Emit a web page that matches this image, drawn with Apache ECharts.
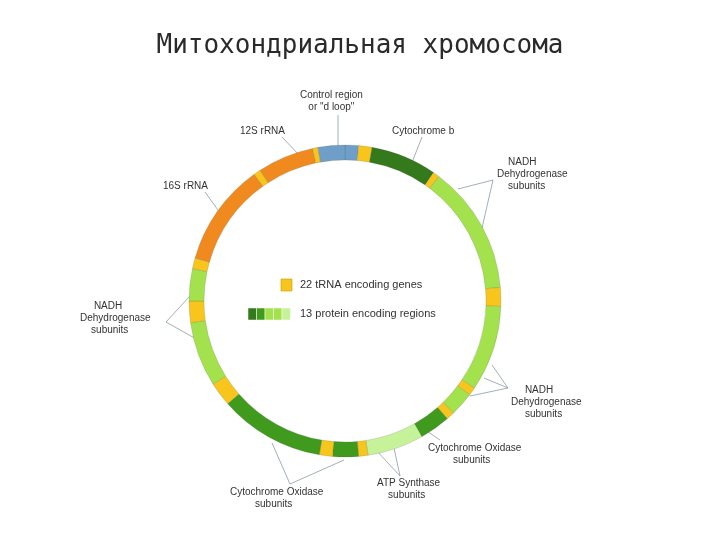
<!DOCTYPE html>
<html><head><meta charset="utf-8">
<script src="https://cdn.jsdelivr.net/npm/echarts@6/dist/echarts.min.js"></script>
<style>html,body{margin:0;background:#fff}#c{width:720px;height:540px}</style>
</head><body><div id="c"></div>
<script>
// segments clockwise from the top, sizes in degrees
var segNames = ['ctrl','trna','cytb','trna','nd','trna','nd','trna','nd','trna','co','atp','trna','co','trna','co','trna','nd','trna','nd','trna','r16','trna','r12','trna','ctrl'];
var segSizes = [5, 5, 24.6, 2.4, 48, 7, 32, 3, 9, 3, 11.5, 21, 3.5, 9.6, 4.9, 39.3, 9, 24.2, 8, 12, 4, 38.4, 2.6, 21, 2, 10];
var segKinds = ['blue','yellow','dark','yellow','light','yellow','light','yellow','light','yellow','mid','pale','yellow','mid','yellow','mid','yellow','light','yellow','light','yellow','orange','yellow','orange','yellow','blue'];
var kindColor = {blue:'#6f9fc9', yellow:'#f7c51b', dark:'#347a1c', mid:'#3f9a1e', light:'#a3e24c', pale:'#c6f29a', orange:'#f08a1f'};

var chart = echarts.init(document.getElementById('c'));
var font = 'Liberation Sans, sans-serif';
function txt(x, y, s, align) {
  return {type:'text', left:x, top:y, style:{text:s, font:'10px ' + font, fill:'#333', textAlign:align || 'center', lineHeight:12}};
}
function ln(pts) {
  return {type:'polyline', shape:{points:pts}, style:{stroke:'#8a9aa6', lineWidth:0.8, fill:null}};
}
var legendGreens = ['#347a1c','#3f9a1e','#a3e24c','#a3e24c','#c6f29a'];
var graphics = [
  {type:'text', left:'center', top:33, style:{text:'Митохондриальная хромосома', font:'26px DejaVu Sans Mono', fill:'#2a2a2a'}},
  {type:'rect', shape:{x:281, y:279, width:11, height:12}, style:{fill:'#f7c51b', stroke:'#c9a000', lineWidth:0.6}},
  {type:'text', left:300, top:279, style:{text:'22 tRNA encoding genes', font:'11px ' + font, fill:'#333'}},
  {type:'text', left:300, top:308, style:{text:'13 protein encoding regions', font:'11px ' + font, fill:'#333'}},
  txt(300, 89, 'Control region\n   or "d loop"', 'left'),
  txt(240, 125, '12S rRNA', 'left'),
  txt(392, 125, 'Cytochrome b', 'left'),
  txt(497, 156, '    NADH\nDehydrogenase\n    subunits', 'left'),
  txt(163, 180, '16S rRNA', 'left'),
  txt(80, 300, '     NADH\nDehydrogenase\n    subunits', 'left'),
  txt(511, 384, '     NADH\nDehydrogenase\n     subunits', 'left'),
  txt(428, 442, 'Cytochrome Oxidase\n         subunits', 'left'),
  txt(377, 477, 'ATP Synthase\n    subunits', 'left'),
  txt(230, 486, 'Cytochrome Oxidase\n         subunits', 'left'),
  ln([[338,115],[338,146]]),
  ln([[282,137],[300,156]]),
  ln([[422,137],[411,165]]),
  ln([[493,180],[458,189]]), ln([[493,180],[482,228]]),
  ln([[205,192],[218,210]]),
  ln([[166,322],[190,296]]), ln([[166,322],[198,340]]),
  ln([[508,388],[492,365]]), ln([[508,388],[484,378]]), ln([[508,388],[470,396]]),
  ln([[440,440],[424,429]]),
  ln([[400,476],[376,450]]), ln([[400,476],[394,448]]),
  ln([[290,484],[272,443]]), ln([[290,484],[344,460]])
];
legendGreens.forEach(function (c, i) {
  graphics.push({type:'rect', shape:{x:248 + i * 8.5, y:308, width:8.5, height:12}, style:{fill:c, stroke:'#fff', lineWidth:0.5}});
});

chart.setOption({
  backgroundColor:'#fff',
  animation:false,
  graphic:graphics,
  series:[{
    type:'pie',
    center:[345, 301],
    radius:[141, 156],
    startAngle:90,
    clockwise:true,
    label:{show:false},
    labelLine:{show:false},
    itemStyle:{borderColor:'rgba(80,80,80,0.35)', borderWidth:0.5},
    data:segSizes.map(function (v, i) {
      return {value:v, name:segNames[i] + i, itemStyle:{color:kindColor[segKinds[i]]}};
    })
  }]
});
</script></body></html>
